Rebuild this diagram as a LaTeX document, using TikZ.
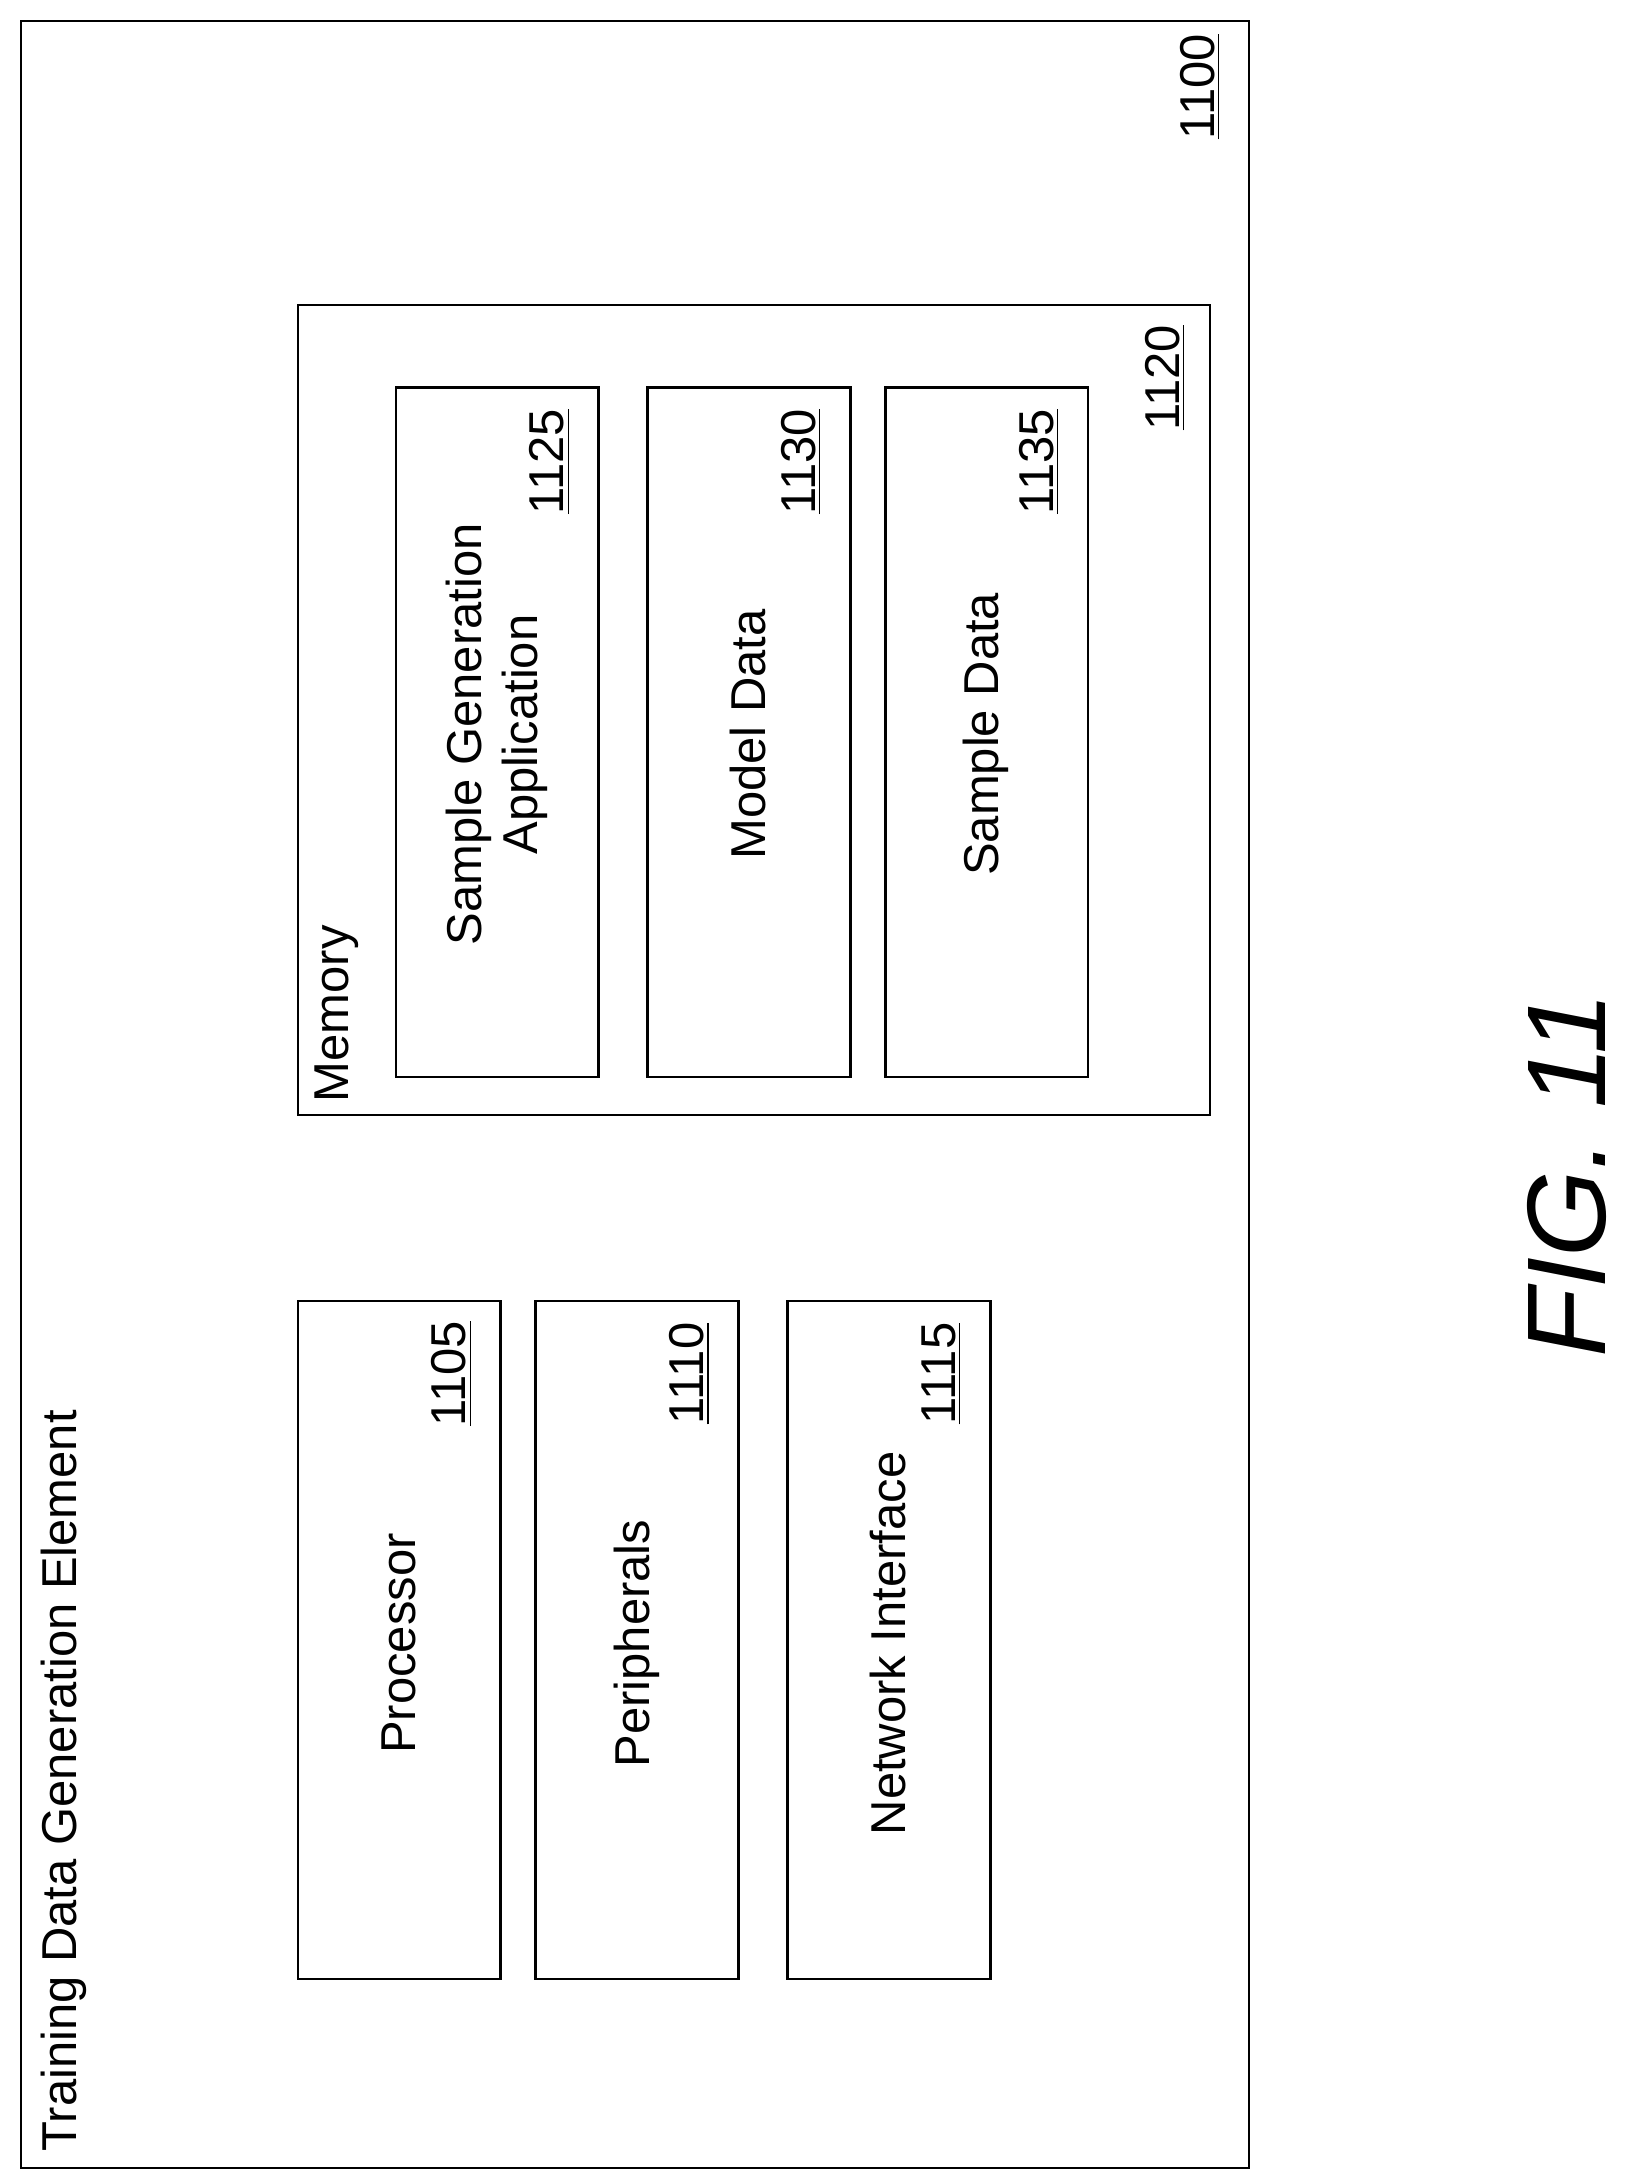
\documentclass[tikz,border=0pt]{standalone}
\usepackage{fontspec}
\setmainfont{Liberation Sans}
\begin{document}
\begin{tikzpicture}[x=0.5pt,y=-0.5pt,
	box/.style={draw, line width=0.9pt},
	lbl/.style={rotate=90, font=\fontsize{17.5}{20}\selectfont, align=center},
	refnum/.style={rotate=90, font=\fontsize{17.5}{20}\selectfont}]
	\useasboundingbox (0,0) rectangle (1170,1560);
	
	% outer element
	\draw [box] (15,15) rectangle (893,1550);
	\node [lbl, anchor=north west] (title) at (22,1545) {Training Data Generation Element};
	\node [refnum] (n1100) at (858,62) {\underline{1100}};
	
	% left column
	\draw [box] (213,930) rectangle (358,1415);
	\node [lbl] (proc) at (285,1175) {Processor};
	\node [refnum] (n1105) at (323,982) {\underline{1105}};
	\draw [box] (383,930) rectangle (528,1415);
	\node [lbl] (peri) at (455,1175) {Peripherals};
	\node [refnum] (n1110) at (493,982) {\underline{1110}};
	\draw [box] (563,930) rectangle (708,1415);
	\node [lbl] (net) at (635,1175) {Network Interface};
	\node [refnum] (n1115) at (673,982) {\underline{1115}};
	
	% memory
	\draw [box] (213,218) rectangle (865,797);
	\node [lbl, anchor=north west] (mem) at (218,795) {Memory};
	\node [refnum] (n1120) at (833,270) {\underline{1120}};
	\draw [box] (283,277) rectangle (428,770);
	\node [lbl] (app) at (355,525) {Sample Generation\\Application};
	\node [refnum] (n1125) at (393,330) {\underline{1125}};
	\draw [box] (463,277) rectangle (608,770);
	\node [lbl] (model) at (535,525) {Model Data};
	\node [refnum] (n1130) at (573,330) {\underline{1130}};
	\draw [box] (633,277) rectangle (778,770);
	\node [lbl] (sample) at (705,525) {Sample Data};
	\node [refnum] (n1135) at (743,330) {\underline{1135}};
	
	\node [rotate=90, font=\fontsize{40}{44}\selectfont\itshape] (fig) at (1120,840) {FIG. 11};
\end{tikzpicture}
\end{document}
